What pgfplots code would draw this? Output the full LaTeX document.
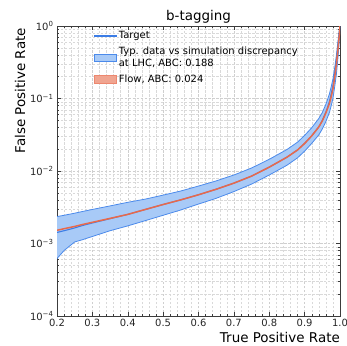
\documentclass[border=0pt]{standalone}
\usepackage{fontspec}
\setmainfont{DejaVu Sans}
\usepackage{pgfplots}
\pgfplotsset{compat=1.18}
\usepgfplotslibrary{fillbetween}
\definecolor{tblue}{RGB}{60,125,230}
\definecolor{bandfill}{RGB}{168,202,247}
\definecolor{bandedge}{RGB}{75,138,235}
\definecolor{flowred}{RGB}{232,105,75}
\definecolor{flowfill}{RGB}{240,165,145}
\definecolor{axgray}{RGB}{60,60,60}
\begin{document}
\begin{tikzpicture}
\begin{axis}[name=ax, scale only axis, width=283bp, height=290bp,
  ymode=log, xmin=0.2, xmax=1.0, ymin=1e-4, ymax=1,
  xtick={0.2,0.3,0.4,0.5,0.6,0.7,0.8,0.9,1.0},
  xticklabels={0.2,0.3,0.4,0.5,0.6,0.7,0.8,0.9,1.0},
  minor x tick num=4,
  ytick={1e-4,1e-3,1e-2,1e-1,1},
  yticklabels={10\textsuperscript{−4},10\textsuperscript{−3},10\textsuperscript{−2},10\textsuperscript{−1},10\textsuperscript{0}},
  minor ytick={2e-4,3e-4,4e-4,5e-4,6e-4,7e-4,8e-4,9e-4,2e-3,3e-3,4e-3,5e-3,6e-3,7e-3,8e-3,9e-3,2e-2,3e-2,4e-2,5e-2,6e-2,7e-2,8e-2,9e-2,0.2,0.3,0.4,0.5,0.6,0.7,0.8,0.9},
  tick label style={font=\fontsize{10}{11}\selectfont, text=black!85},
  tick align=inside,
  major tick length=4bp, minor tick length=2bp,
  every tick/.style={axgray},
  axis line style={axgray, line width=0.9pt},
  grid=both,
  major grid style={dash pattern=on 2.5pt off 1.5pt, gray!38, line width=0.5pt},
  minor grid style={dash pattern=on 2.5pt off 1.5pt, gray!30, line width=0.4pt},
  xlabel={True Positive Rate}, ylabel={False Positive Rate},
  every axis x label/.style={at={(rel axis cs:1,0)}, anchor=base east, yshift=-26bp, inner sep=0pt, font=\fontsize{13.5}{15}\selectfont},
  every axis y label/.style={at={(rel axis cs:0,1)}, xshift=-32bp, yshift=-2bp, rotate=90, anchor=base east, inner sep=0pt, font=\fontsize{13.5}{15}\selectfont},
  title={b-tagging},
  every axis title/.style={at={(rel axis cs:0.5,1)}, anchor=base, yshift=6bp, inner sep=0pt, font=\fontsize{13.5}{15}\selectfont},
  legend style={at={(rel axis cs:0.12,0.995)}, anchor=north west, draw=none, fill=none,
    font=\fontsize{10}{11.5}\selectfont, cells={anchor=west, align=left}, row sep=3pt},
  legend cell align=left,
]
\addplot[name path=U, bandedge, line width=0.8pt, forget plot] coordinates {
(0.20,2.35e-3)(0.22,2.45e-3)(0.25,2.62e-3)(0.27,2.75e-3)(0.30,2.95e-3)(0.35,3.3e-3)(0.40,3.7e-3)(0.45,4.1e-3)(0.50,4.65e-3)(0.55,5.3e-3)(0.60,6.2e-3)(0.65,7.3e-3)(0.70,8.8e-3)(0.75,1.1e-2)(0.80,1.45e-2)(0.85,1.98e-2)(0.88,2.5e-2)(0.90,3.1e-2)(0.92,3.95e-2)(0.94,5.3e-2)(0.95,6.4e-2)(0.96,8.3e-2)(0.97,0.115)(0.975,0.145)(0.98,0.185)(0.985,0.265)(0.99,0.40)(0.995,0.66)(0.998,0.88)(1.0,1.0)};
\addplot[name path=L, bandedge, line width=0.8pt, forget plot] coordinates {
(0.20,6.2e-4)(0.22,8.0e-4)(0.25,1.05e-3)(0.27,1.12e-3)(0.30,1.25e-3)(0.35,1.5e-3)(0.40,1.75e-3)(0.45,2.07e-3)(0.50,2.45e-3)(0.55,2.9e-3)(0.60,3.5e-3)(0.65,4.2e-3)(0.70,5.2e-3)(0.75,6.6e-3)(0.80,8.8e-3)(0.85,1.2e-2)(0.88,1.52e-2)(0.90,1.88e-2)(0.92,2.4e-2)(0.94,3.15e-2)(0.95,3.8e-2)(0.96,4.8e-2)(0.97,6.4e-2)(0.975,0.079)(0.98,0.10)(0.985,0.145)(0.99,0.22)(0.995,0.40)(0.998,0.62)(1.0,1.0)};
\addplot[bandfill, forget plot] fill between[of=U and L];
\addplot[tblue, line width=1.1pt, forget plot] coordinates {
(0.20,1.42e-3)(0.22,1.50e-3)(0.25,1.64e-3)(0.27,1.76e-3)(0.30,1.92e-3)(0.35,2.2e-3)(0.40,2.52e-3)(0.45,2.95e-3)(0.50,3.45e-3)(0.55,4.0e-3)(0.60,4.7e-3)(0.65,5.6e-3)(0.70,6.8e-3)(0.75,8.5e-3)(0.80,1.13e-2)(0.85,1.55e-2)(0.88,1.95e-2)(0.90,2.4e-2)(0.92,3.05e-2)(0.94,4.05e-2)(0.95,5.0e-2)(0.96,6.5e-2)(0.97,9.0e-2)(0.975,0.115)(0.98,0.15)(0.985,0.225)(0.99,0.34)(0.995,0.58)(0.998,0.8)(1.0,1.0)};
\addplot[flowred, line width=1.5pt, forget plot] coordinates {
(0.20,1.52e-3)(0.22,1.60e-3)(0.25,1.72e-3)(0.27,1.82e-3)(0.30,1.96e-3)(0.35,2.22e-3)(0.40,2.52e-3)(0.45,2.95e-3)(0.50,3.45e-3)(0.55,4.0e-3)(0.60,4.7e-3)(0.65,5.6e-3)(0.70,6.8e-3)(0.75,8.5e-3)(0.80,1.13e-2)(0.85,1.55e-2)(0.88,1.95e-2)(0.90,2.4e-2)(0.92,3.05e-2)(0.94,4.05e-2)(0.95,4.9e-2)(0.96,6.3e-2)(0.97,8.5e-2)(0.975,0.105)(0.98,0.135)(0.985,0.195)(0.99,0.30)(0.995,0.52)(0.998,0.75)(1.0,1.0)};
\addlegendimage{legend image code/.code={\path[draw=none, fill=none] (0cm,-0.13cm) rectangle (0.78cm,0.13cm); \path[draw=none, fill=tblue] (0cm,-0.023cm) rectangle (0.78cm,0.023cm);}}
\addlegendentry{Target}
\addlegendimage{legend image code/.code={\draw[bandedge, fill=bandfill, line width=0.6pt] (0cm,-0.13cm) rectangle (0.78cm,0.13cm);}}
\addlegendentry{Typ. data vs simulation discrepancy\\at LHC, ABC: 0.188}
\addlegendimage{legend image code/.code={\draw[flowred!80, fill=flowfill, line width=0.6pt] (0cm,-0.13cm) rectangle (0.78cm,0.13cm);}}
\addlegendentry{Flow, ABC: 0.024}
\end{axis}
\pgfresetboundingbox
\path ([shift={(-57bp,-30bp)}]ax.south west) rectangle ([shift={(7bp,26bp)}]ax.north east);
\end{tikzpicture}
\end{document}
